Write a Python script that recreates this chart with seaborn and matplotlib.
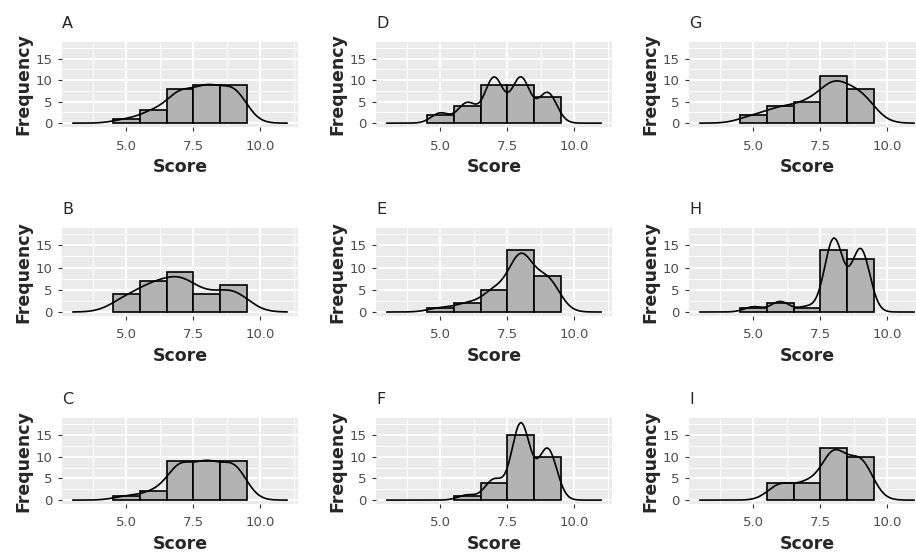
import numpy as np
import pandas as pd
import matplotlib
matplotlib.use("Agg")
import matplotlib.pyplot as plt
import seaborn as sns

# scores and how many respondents gave each score, per panel
scores = [5, 6, 7, 8, 9]
counts_A = [1, 3, 8, 9, 9]
counts_B = [4, 7, 9, 4, 6]
counts_C = [1, 2, 9, 9, 9]
counts_D = [2, 4, 9, 9, 6]
counts_E = [1, 2, 5, 14, 8]
counts_F = [0, 1, 4, 15, 10]
counts_G = [2, 4, 5, 11, 8]
counts_H = [1, 2, 1, 14, 12]
counts_I = [0, 4, 4, 12, 10]

panels = {
    'A': counts_A, 'B': counts_B, 'C': counts_C,
    'D': counts_D, 'E': counts_E, 'F': counts_F,
    'G': counts_G, 'H': counts_H, 'I': counts_I,
}
order = [['A', 'D', 'G'], ['B', 'E', 'H'], ['C', 'F', 'I']]


def bw_nrd0(x):
    sd = np.std(x, ddof=1)
    iqr = np.subtract(*np.percentile(x, [75, 25]))
    lo = min(sd, iqr / 1.34)
    return 0.9 * lo * len(x) ** (-0.2)


def density_counts(x, grid):
    bw = bw_nrd0(x)
    z = (grid[:, None] - x[None, :]) / bw
    dens = np.exp(-0.5 * z ** 2).sum(axis=1) / (len(x) * bw * np.sqrt(2 * np.pi))
    return dens * len(x)  # binwidth = 1


sns.set_style("darkgrid")
plt.rcParams['font.family'] = ['DejaVu Sans']

W, H = 916, 554
fig = plt.figure(figsize=(W / 100, H / 100), dpi=100)

col_left = [62, 376, 689]
row_top = [42, 228, 418]
row_h = [85, 88, 86]
pw = 236

grid = np.linspace(3, 11, 512)

for r in range(3):
    for c in range(3):
        key = order[r][c]
        cnt = panels[key]
        x = np.repeat(scores, cnt).astype(float)
        df = pd.DataFrame({'Score': x})
        ax = fig.add_axes([col_left[c] / W, 1 - (row_top[r] + row_h[r]) / H,
                           pw / W, row_h[r] / H])
        ax.set_facecolor('#EBEBEB')
        lo = x.min() - 0.5
        hi = x.max() + 0.5
        sns.histplot(data=df, x='Score', bins=np.arange(lo, hi + 0.5, 1.0),
                     color='#B3B3B3', alpha=1, edgecolor='black',
                     linewidth=1.2, ax=ax, zorder=3)
        dens = pd.DataFrame({'Score': grid, 'y': density_counts(x, grid)})
        sns.lineplot(data=dens, x='Score', y='y', color='black',
                     linewidth=1.2, ax=ax, zorder=4)

        ax.set_xlim(2.6, 11.4)
        ax.set_ylim(-0.9, 18.9)
        ax.set_xticks([5, 7.5, 10])
        ax.set_xticklabels(['5.0', '7.5', '10.0'])
        ax.set_yticks([0, 5, 10, 15])
        ax.set_xticks([3.75, 6.25, 8.75, 11.25], minor=True)
        ax.set_yticks([2.5, 7.5, 12.5, 17.5], minor=True)
        ax.grid(which='major', color='white', linewidth=1.3)
        ax.grid(which='minor', color='white', linewidth=0.7)
        ax.set_axisbelow(True)
        for s in ax.spines.values():
            s.set_visible(False)
        ax.tick_params(which='major', length=3, width=0.8, color='#333333',
                       labelsize=9.5, labelcolor='#4D4D4D', pad=4,
                       bottom=True, left=True)
        ax.tick_params(axis='x', which='major', pad=6)
        ax.tick_params(which='minor', length=0)
        ax.set_xlabel('Score', fontsize=12.5, fontweight='bold', labelpad=4)
        ax.set_ylabel('Frequency', fontsize=12.5, fontweight='bold', labelpad=2)
        ax.set_title(key, loc='left', fontsize=11.5, pad=10)

fig.savefig('out.png', dpi=100)
